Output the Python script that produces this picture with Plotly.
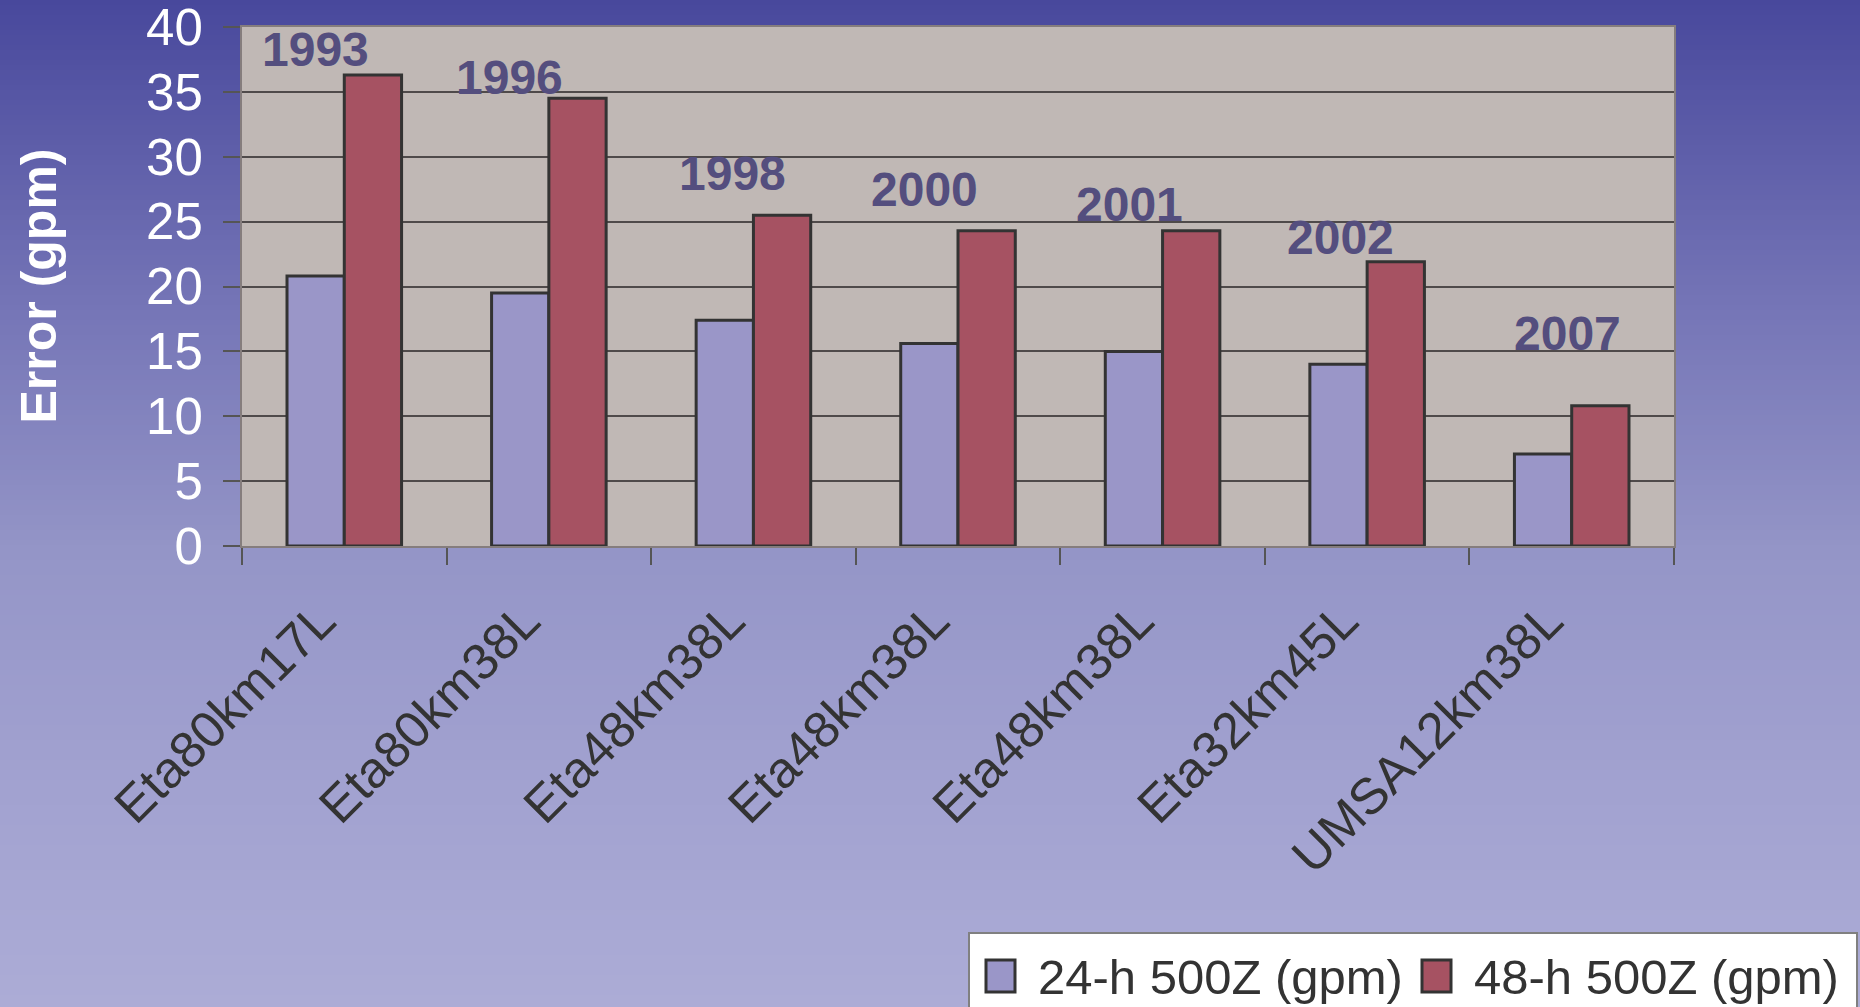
import plotly.graph_objects as go

# ---- data -------------------------------------------------------------
models = ["Eta80km17L", "Eta80km38L", "Eta48km38L", "Eta48km38L",
          "Eta48km38L", "Eta32km45L", "UMSA12km38L"]
years = ["1993", "1996", "1998", "2000", "2001", "2002", "2007"]
series_names = ["24-h 500Z (gpm)", "48-h 500Z (gpm)"]
err_24h = [20.8, 19.5, 17.4, 15.6, 15.0, 14.0, 7.1]
err_48h = [36.3, 34.5, 25.5, 24.3, 24.3, 21.9, 10.8]
y_ticks = [0, 5, 10, 15, 20, 25, 30, 35, 40]

# ---- layout helpers ------------------------------------------------------
W, H = 1860, 1007
M_L, M_R, M_T, M_B = 242, 186, 27, 461
PLOT_H = H - M_T - M_B
PLOT_W = W - M_L - M_R

# year tag placement: shift from category centre, height in gpm
year_tag_dx = [-0.14, -0.19, -0.10, -0.165, -0.16, -0.13, -0.02]
year_tag_y = [38.3, 36.1, 28.7, 27.5, 26.3, 23.8, 16.4]

FONT = "Liberation Sans, Arial, Helvetica, sans-serif"
COLORS = ["#9A96C8", "#A65262"]
OUTLINE = "#333333"


def px_to_paper_y(p):
    return (H - M_B - p) / PLOT_H


def px_to_paper_x(p):
    return (p - M_L) / PLOT_W


# vertical background gradient (pixel row -> rgb)
grad_stops = [(0, (72, 72, 156)), (300, (116, 116, 182)), (550, (148, 149, 199)),
              (750, (160, 160, 207)), (1007, (172, 172, 214))]


def grad_color(p):
    for (p0, c0), (p1, c1) in zip(grad_stops[:-1], grad_stops[1:]):
        if p0 <= p <= p1:
            t = (p - p0) / (p1 - p0)
            return "rgb(%d,%d,%d)" % tuple(round(a + (b - a) * t) for a, b in zip(c0, c1))
    return "rgb(%d,%d,%d)" % grad_stops[-1][1]


shapes = []
band = 5
for p in range(0, H, band):
    shapes.append(dict(
        type="rect", xref="paper", yref="paper", layer="below",
        x0=-0.3, x1=1.3, y0=px_to_paper_y(p + band + 1), y1=px_to_paper_y(p),
        fillcolor=grad_color(p + band / 2), line=dict(width=0),
    ))
# plot area fill
shapes.append(dict(type="rect", xref="paper", yref="paper", layer="below",
                   x0=0, x1=1, y0=0, y1=1, fillcolor="#C0B8B5", line=dict(width=0)))

# legend box (runs off the lower right edge of the page)
shapes.append(dict(type="rect", xref="paper", yref="paper", layer="above",
                   x0=px_to_paper_x(969), x1=px_to_paper_x(1857),
                   y0=px_to_paper_y(1040), y1=px_to_paper_y(933),
                   fillcolor="white", line=dict(color="#808080", width=2)))
legend_swatch_x = [986, 1422]
legend_text_x = [1036, 1472]
for sx, col in zip(legend_swatch_x, COLORS):
    shapes.append(dict(type="rect", xref="paper", yref="paper", layer="above",
                       x0=px_to_paper_x(sx), x1=px_to_paper_x(sx + 29),
                       y0=px_to_paper_y(992), y1=px_to_paper_y(960),
                       fillcolor=col, line=dict(color=OUTLINE, width=3)))

fig = go.Figure()
for name, vals, col in zip(series_names, [err_24h, err_48h], COLORS):
    fig.add_trace(go.Bar(
        x=list(range(len(models))), y=vals, name=name, showlegend=False,
        marker=dict(color=col, line=dict(color=OUTLINE, width=3)),
    ))

annotations = []
for i, yr in enumerate(years):
    annotations.append(dict(
        x=i + year_tag_dx[i], y=year_tag_y[i], xref="x", yref="y",
        text=yr, showarrow=False, xanchor="center", yanchor="middle",
        font=dict(family=FONT, size=48, color="#544E7E", weight="bold"),
    ))
annotations.append(dict(
    x=px_to_paper_x(38), y=0.5, xref="paper", yref="paper",
    text="Error (gpm)", textangle=-90, showarrow=False,
    xanchor="center", yanchor="middle",
    font=dict(family=FONT, size=50, color="white", weight="bold"),
))
for tx, name in zip(legend_text_x, series_names):
    annotations.append(dict(
        x=px_to_paper_x(tx), y=px_to_paper_y(977), xref="paper", yref="paper",
        text=name, showarrow=False, xanchor="left", yanchor="middle",
        font=dict(family=FONT, size=49, color="#333333"),
    ))

fig.update_layout(
    width=W, height=H,
    margin=dict(l=M_L, r=M_R, t=M_T, b=M_B, autoexpand=False),
    paper_bgcolor="rgba(0,0,0,0)", plot_bgcolor="rgba(0,0,0,0)",
    barmode="group", bargap=0.44, bargroupgap=0,
    shapes=shapes, annotations=annotations,
    font=dict(family=FONT, size=48, color="#333333"),
    showlegend=False,
    xaxis=dict(
        type="linear", range=[-0.5, len(models) - 0.5],
        tickvals=list(range(len(models))), ticktext=models,
        ticks="", tickangle=-45,
        tickfont=dict(family=FONT, size=51, color="#333333"),
        ticklabelstandoff=22, ticklabelshift=-24,
        ticklabeloverflow="allow",
        minor=dict(tickvals=[i - 0.5 for i in range(len(models) + 1)],
                   ticks="outside", ticklen=17, tickcolor="#555555",
                   tickwidth=1.5, showgrid=False),
        showgrid=False, zeroline=False,
        showline=True, linecolor="#857d7d", linewidth=2, mirror=True,
    ),
    yaxis=dict(
        range=[0, 40], tickvals=y_ticks,
        ticks="outside", ticklen=17, tickcolor="#555555", tickwidth=1.5,
        tickfont=dict(family=FONT, size=51, color="white"),
        ticklabelstandoff=10, ticklabeloverflow="allow",
        showgrid=True, gridcolor="#4f4a4a", gridwidth=1.5,
        zeroline=False,
        showline=True, linecolor="#857d7d", linewidth=2, mirror=True,
    ),
)

fig.write_html("out.html")
